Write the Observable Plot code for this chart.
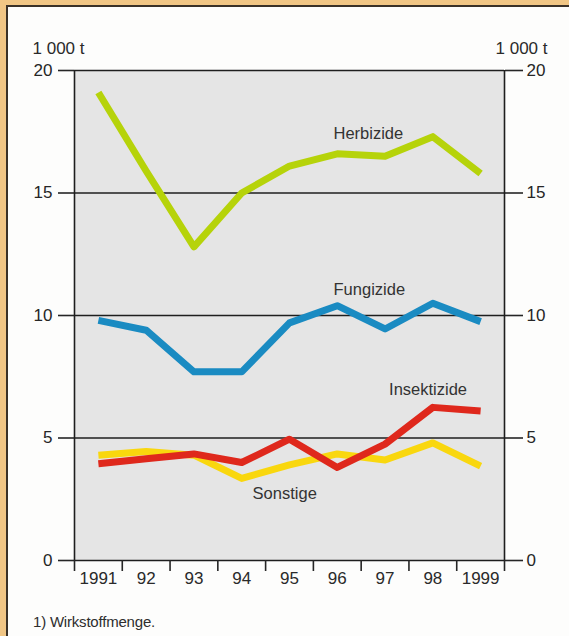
<!DOCTYPE html>
<html>
<head>
<meta charset="utf-8">
<script src="https://cdn.jsdelivr.net/npm/d3@7"></script>
<script src="https://cdn.jsdelivr.net/npm/@observablehq/plot@0.6"></script>
<style>
  html, body { margin: 0; padding: 0; }
  body { width: 569px; height: 636px; background: #f1c685; position: relative; overflow: hidden;
         font-family: "Liberation Sans", Arial, Helvetica, sans-serif; }
  #panel { position: absolute; left: 6px; top: 5px; width: 580px; height: 660px; background: #fdfdfc;
           border-left: 2px solid #3a3128; border-top: 2px solid #3a3128; }
  #chart { position: absolute; left: 0; top: 0; }
  #note { position: absolute; left: 33px; top: 613px; font-size: 15px; color: #2e2e2e; letter-spacing: -0.2px; }
</style>
</head>
<body>
<div id="panel"></div>
<div id="chart"></div>
<div id="note">1) Wirkstoffmenge.</div>
<script>
const years = [1991, 1992, 1993, 1994, 1995, 1996, 1997, 1998, 1999];
const xLabels = ["1991", "92", "93", "94", "95", "96", "97", "98", "1999"];
const yTicks = [0, 5, 10, 15, 20];
const unitLabel = "1 000 t";

const seriesNames = ["Herbizide", "Fungizide", "Sonstige", "Insektizide"];
const seriesColors = ["#b6d30a", "#1a8bc2", "#f9d70e", "#df281c"];
const herbizide   = [19.1, 15.9, 12.8, 15.0, 16.1, 16.6, 16.5, 17.3, 15.8];
const fungizide   = [9.8, 9.4, 7.7, 7.7, 9.7, 10.4, 9.45, 10.5, 9.75];
const sonstige    = [4.3, 4.45, 4.3, 3.35, 3.9, 4.35, 4.1, 4.8, 3.85];
const insektizide = [3.95, 4.15, 4.35, 4.0, 4.95, 3.8, 4.75, 6.25, 6.1];
const seriesValues = [herbizide, fungizide, sonstige, insektizide];

// label anchor positions (in data units)
const labelX = [1996.65, 1996.67, 1994.9, 1997.9];
const labelY = [17.43, 11.06, 2.73, 6.98];

const rows = [];
seriesNames.forEach((name, s) => years.forEach((yr, i) => rows.push({series: name, year: yr, value: seriesValues[s][i]})));
const labels = seriesNames.map((name, s) => ({name, x: labelX[s], y: labelY[s]}));
const xEdges = years.map(y => y - 0.5).concat([years[years.length - 1] + 0.5]);

const chart = Plot.plot({
  width: 569,
  height: 600,
  marginLeft: 74,
  marginRight: 65,
  marginTop: 70,
  marginBottom: 40,
  x: {domain: [xEdges[0], xEdges[xEdges.length - 1]]},
  y: {domain: [0, 20]},
  color: {domain: seriesNames, range: seriesColors},
  style: {background: "transparent", color: "#262626", fontFamily: "'Liberation Sans', Arial, Helvetica, sans-serif", fontSize: "17px"},
  marks: [
    Plot.frame({fill: "#e5e5e5", stroke: "none"}),
    Plot.ruleY(yTicks, {stroke: "#1e1e1e", strokeWidth: 1.6}),
    Plot.axisY({anchor: "left", ticks: yTicks, tickSize: 16, tickPadding: 6, label: null, strokeWidth: 1.6, fontSize: 17}),
    Plot.axisY({anchor: "right", ticks: yTicks, tickSize: 18, tickPadding: 4, label: null, strokeWidth: 1.6, fontSize: 17}),
    Plot.ruleX([xEdges[0], xEdges[xEdges.length - 1]], {y1: 0, y2: 20, stroke: "#1e1e1e", strokeWidth: 1.6}),
    Plot.axisX(xEdges, {tickSize: 11, tickFormat: () => "", label: null, strokeWidth: 1.6}),
    Plot.line(rows, {x: "year", y: "value", z: "series", stroke: "series", strokeWidth: 7, strokeLinejoin: "round", strokeLinecap: "butt"}),
    Plot.text(years, {x: d => d, y: 0, text: (d, i) => xLabels[i], dy: 18, fontSize: 17, fill: "#2a2a2a"}),
    Plot.text(labels, {x: "x", y: "y", text: "name", fontSize: 16.5, fill: "#333"}),
    Plot.text([unitLabel], {frameAnchor: "top-left", lineAnchor: "middle", dx: -42, dy: -22, textAnchor: "start", fontSize: 17, fill: "#2a2a2a"}),
    Plot.text([unitLabel], {frameAnchor: "top-right", lineAnchor: "middle", dx: 43, dy: -22, textAnchor: "end", fontSize: 17, fill: "#2a2a2a"})
  ]
});
document.getElementById("chart").appendChild(chart);
</script>
</body>
</html>
